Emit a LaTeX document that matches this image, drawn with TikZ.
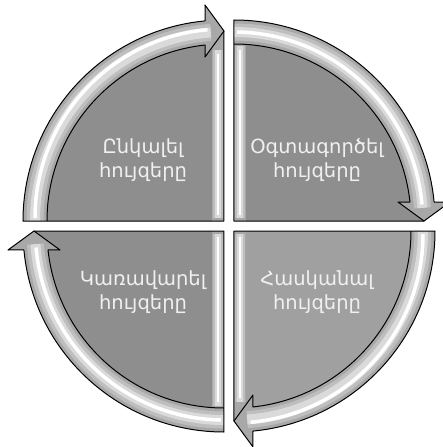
\documentclass[tikz,border=0pt]{standalone}
\usepackage{fontspec}
\newfontfamily\armfont{DejaVu Sans}
\definecolor{bandgray}{RGB}{168,168,168}
\definecolor{sectorgray}{RGB}{142,142,142}
\definecolor{sectorlight}{RGB}{160,160,160}
\definecolor{midgray}{RGB}{190,190,190}
\definecolor{shinegray}{RGB}{218,218,218}
\definecolor{textwhite}{RGB}{240,240,240}
\usetikzlibrary{positioning}

\begin{document}
\begin{tikzpicture}[x=1pt,y=1pt,
    outline/.style={draw=black,line width=1pt,line join=round},
    quadtext/.style={text=textwhite,font=\armfont\fontsize{19.5}{24}\selectfont,align=center}]
  \useasboundingbox (-229,-221) rectangle (214,226);
  \foreach \r/\fl/\fr in {0/sectorgray/sectorgray,180/sectorlight/sectorgray}{
    \begin{scope}[rotate=\r]
      % left piece, arrow head at the top
      \fill[bandgray] (-206,5) arc[start angle=180,end angle=95.42,radius=201] -- (-24,221) -- (-5,195) -- (-5,5) -- cycle;
      \fill[\fl] (-182,5) arc[start angle=180,end angle=96.16,radius=177] -- (-24,169) -- (-17,178.6) -- (-17,5) -- cycle;
      \draw[midgray,line width=17pt] (-194,5) arc[start angle=180,end angle=94,radius=189];
      \draw[shinegray,line width=10pt] (-194,5) arc[start angle=180,end angle=94,radius=189];
      \draw[white,line width=3.5pt] (-194,8) arc[start angle=180,end angle=95,radius=189];
      \draw[midgray,line width=10pt] (-11,8) -- (-11,176);
      \draw[shinegray,line width=6pt] (-11,8) -- (-11,176);
      \draw[white,line width=2.5pt] (-11,11) -- (-11,172);
      \draw[outline] (-206,5) arc[start angle=180,end angle=95.42,radius=201] -- (-24,221) -- (-5,195) -- (-5,5) -- cycle;
      \draw[outline] (-182,5) arc[start angle=180,end angle=96.16,radius=177] -- (-24,169) -- (-5,195);
      % right piece, arrow head at the side
      \fill[bandgray] (5,5) -- (5,206) arc[start angle=90,end angle=5.42,radius=201] -- (221,24) -- (195,5) -- cycle;
      \fill[\fr] (17,5) -- (17,181.6) arc[start angle=86.11,end angle=6.16,radius=177] -- (169,24) -- (195,5) -- cycle;
      \draw[midgray,line width=17pt] (5,194) arc[start angle=90,end angle=4,radius=189];
      \draw[shinegray,line width=10pt] (5,194) arc[start angle=90,end angle=4,radius=189];
      \draw[white,line width=3.5pt] (8,194) arc[start angle=89,end angle=5,radius=189];
      \draw[midgray,line width=10pt] (11,8) -- (11,180);
      \draw[shinegray,line width=6pt] (11,8) -- (11,180);
      \draw[white,line width=2.5pt] (11,11) -- (11,176);
      \draw[outline] (5,5) -- (5,206) arc[start angle=90,end angle=5.42,radius=201] -- (221,24) -- (195,5) -- cycle;
      \draw[outline] (5,182) arc[start angle=90,end angle=6.16,radius=177] -- (169,24) -- (195,5);
    \end{scope}
  }
  \node[quadtext] (perceive) at (-86,66) {Ընկալել\\հույզերը};
  \node[quadtext] (use) at (88,66) {Օգտագործել\\հույզերը};
  \node[quadtext] (understand) at (88,-66) {Հասկանալ\\հույզերը};
  \node[quadtext] (manage) at (-86,-66) {Կառավարել\\հույզերը};
\end{tikzpicture}
\end{document}
